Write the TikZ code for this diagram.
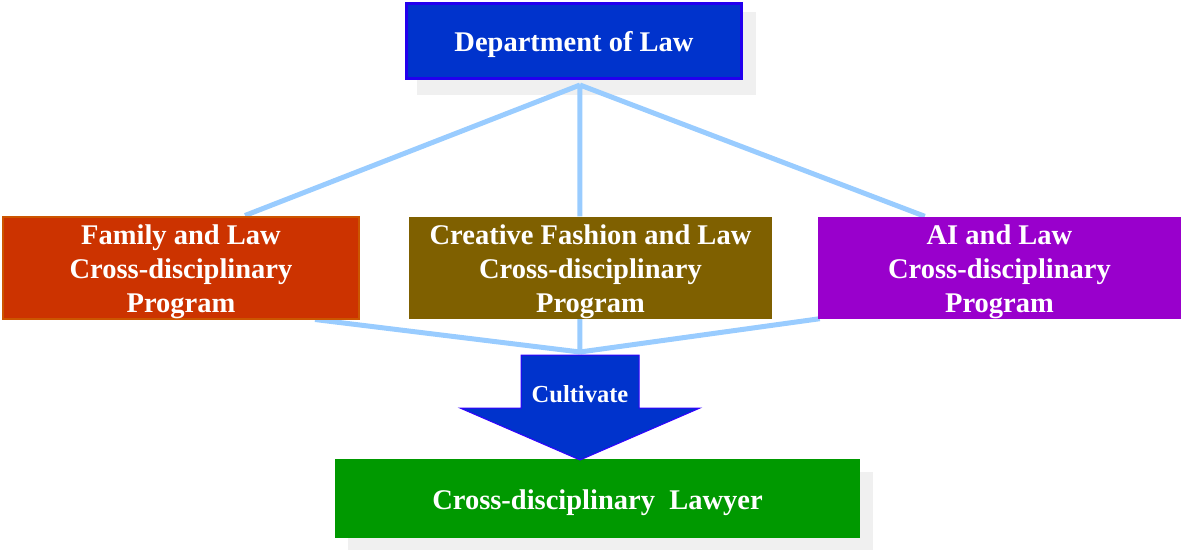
\documentclass[tikz,border=0pt]{standalone}
\usepackage{fontspec}
\setmainfont{Liberation Serif}
\usetikzlibrary{calc,backgrounds}
\definecolor{deptfill}{HTML}{0033CC}
\definecolor{deptline}{HTML}{2200EE}
\definecolor{famfill}{HTML}{CC3300}
\definecolor{famline}{HTML}{CC5500}
\definecolor{crefill}{HTML}{7F6000}
\definecolor{aifill}{HTML}{9900CC}
\definecolor{lawfill}{HTML}{009900}
\definecolor{connc}{HTML}{99CCFF}
\definecolor{shadowc}{HTML}{F0F0F0}
\definecolor{arrline}{HTML}{3300FF}
\newsavebox\tlbox
\newcommand{\threelines}[3]{\sbox\tlbox{\begin{tabular}{@{}c@{}}#1\\#2\\#3\end{tabular}}\raisebox{-4pt}[\ht\tlbox][\dp\tlbox]{\usebox\tlbox}}
\tikzset{
  box/.style={rectangle, inner sep=0pt, text=white, align=center,
    font=\bfseries\fontsize{28.5}{34}\selectfont},
  conn/.style={draw=connc, line width=5pt}
}
\begin{document}
\begin{tikzpicture}[x=1pt,y=-1pt]
\useasboundingbox (0,0) rectangle (1181,552);
% nodes
\node[box, fill=deptfill, draw=deptline, line width=3pt, minimum width=335pt, minimum height=75pt] (dept) at (574,41) {\rule{0pt}{27.5pt}Department of Law};
\node[box, fill=famfill, draw=famline, line width=2pt, minimum width=356pt, minimum height=99pt] (fam) at (181,267.5) {\threelines{Family and Law}{Cross-disciplinary}{Program}};
\node[box, fill=crefill, minimum width=363pt, minimum height=101pt] (cre) at (590.5,267.5) {\threelines{Creative Fashion and Law}{Cross-disciplinary}{Program}};
\node[box, fill=aifill, minimum width=363pt, minimum height=101pt] (ai) at (999.5,267.5) {\threelines{AI and Law}{Cross-disciplinary}{Program}};
\node[box, fill=lawfill, minimum width=525pt, minimum height=79pt] (law) at (597.5,498.5) {\rule{0pt}{27.5pt}Cross-disciplinary\ \ Lawyer};
\coordinate (j1) at (580,85);
\coordinate (j2) at (580,352);
% arrow
\filldraw[fill=deptfill, draw=arrline, line width=1pt]
  (521,355) -- (639,355) -- (639,408) -- (700,408) -- (580,460) -- (460,408) -- (521,408) -- cycle;
\node[box, font=\bfseries\fontsize{24.5}{28}\selectfont] (cult) at (580,394) {Cultivate};
% shadows and connectors
\begin{pgfonlayer}{background}
\fill[shadowc] (417,12) rectangle (756,95);
\fill[shadowc] (348,472) rectangle (873,550);
\draw[conn] (j1) -- ($(fam.north west)+(243,0)$);
\draw[conn] (j1) -- ($(cre.north west)+(171,0)$);
\draw[conn] (j1) -- ($(ai.north west)+(107,0)$);
\draw[conn] ($(fam.south west)+(313,0)$) -- (j2);
\draw[conn] ($(cre.south west)+(171,0)$) -- (j2);
\draw[conn] ($(ai.south west)+(2,0)$) -- (j2);
\end{pgfonlayer}
\end{tikzpicture}
\end{document}
